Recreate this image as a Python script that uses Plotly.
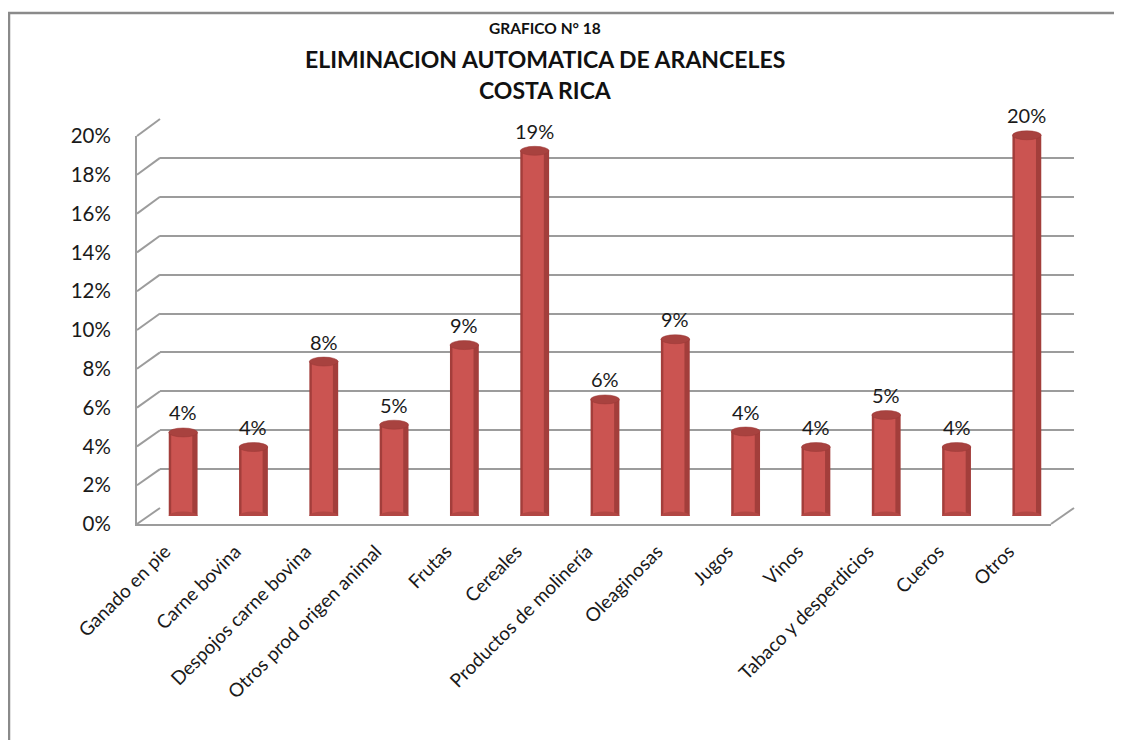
import plotly.graph_objects as go

# ---------------- data ----------------
categories = [
    "Ganado en pie", "Carne bovina", "Despojos carne bovina", "Otros prod origen animal",
    "Frutas", "Cereales", "Productos de molinería", "Oleaginosas", "Jugos", "Vinos",
    "Tabaco y desperdicios", "Cueros", "Otros",
]
values = [0.043, 0.0355, 0.0795, 0.047, 0.088, 0.188, 0.060, 0.091, 0.0435, 0.0355, 0.052, 0.0355, 0.196]
y_ticks = [0.00, 0.02, 0.04, 0.06, 0.08, 0.10, 0.12, 0.14, 0.16, 0.18, 0.20]
title_lines = ["GRAFICO N° 18", "ELIMINACION AUTOMATICA DE ARANCELES", "COSTA RICA"]

# ---------------- layout geometry (page pixels) ----------------
PAGE_OFF = 8                    # default body margin of the html page
W, H = 1122 - PAGE_OFF, 740 - PAGE_OFF
FONT = "Lato, 'Open Sans', sans-serif"
GRID = "#9c9c9c"

def px(x):
    return (x - PAGE_OFF) / W

def py(y):
    return 1 - (y - PAGE_OFF) / H

front = dict(l=137, r=1051, y0=524, y1=136)   # front plane (axis labels)
back = dict(l=160, r=1074, y0=508, y1=119)    # back wall (gridlines)
mid = dict(l=148, r=1062, y0=516, y1=127.5)   # bar plane

YMAX = 0.2
rng_x = [-0.5, len(categories) - 0.5]

fig = go.Figure()

# back wall subplot (grid only)
fig.add_trace(go.Scatter(x=categories, y=values, mode="none", showlegend=False,
                         hoverinfo="skip", xaxis="x", yaxis="y"))

# bars: cylinder body (edge colour) + lighter core
fig.add_trace(go.Bar(x=categories, y=values, width=0.41, marker=dict(color="#A33E3B", line=dict(width=0)),
                     showlegend=False, xaxis="x2", yaxis="y2", hoverinfo="x+y"))
fig.add_trace(go.Bar(x=categories, y=values, width=0.30, offset=-0.17,
                     marker=dict(color="#CB5451", line=dict(width=0)),
                     showlegend=False, xaxis="x2", yaxis="y2", hoverinfo="skip"))

# front axis subplot (labels)
fig.add_trace(go.Scatter(x=categories, y=values, mode="none", showlegend=False,
                         hoverinfo="skip", xaxis="x3", yaxis="y3"))

shapes = []
# diagonal connectors from front axis to back wall
for t in y_ticks:
    yf = front["y0"] + (front["y1"] - front["y0"]) * t / YMAX
    yb = back["y0"] + (back["y1"] - back["y0"]) * t / YMAX
    shapes.append(dict(type="line", xref="paper", yref="paper",
                       x0=px(front["l"]), y0=py(yf), x1=px(back["l"]), y1=py(yb),
                       line=dict(color=GRID, width=2)))
# right floor diagonal
shapes.append(dict(type="line", xref="paper", yref="paper",
                   x0=px(front["r"]), y0=py(front["y0"]), x1=px(back["r"]), y1=py(back["y0"]),
                   line=dict(color=GRID, width=2)))

# cylinder caps (top) and rounded bases
for i, v in enumerate(values):
    shapes.append(dict(type="circle", xref="x2", yref="y2", xsizemode="pixel", ysizemode="pixel",
                       xanchor=i, yanchor=0, x0=-14.4, x1=14.4, y0=-4.5, y1=4.5,
                       fillcolor="#B24744", line=dict(width=0), layer="above"))
    shapes.append(dict(type="circle", xref="x2", yref="y2", xsizemode="pixel", ysizemode="pixel",
                       xanchor=i, yanchor=v, x0=-14.4, x1=14.4, y0=-4.5, y1=4.5,
                       fillcolor="#A8423F", line=dict(color="#9A3936", width=0.5), layer="above"))

# outer chart border
shapes.append(dict(type="rect", xref="paper", yref="paper",
                   x0=px(9), y0=py(13), x1=px(1122 + 20), y1=py(740 + 20),
                   line=dict(color="#8a8a8a", width=2.5), fillcolor="rgba(0,0,0,0)", layer="below"))

annotations = []
for i, v in enumerate(values):
    annotations.append(dict(xref="x2", yref="y2", x=i, y=v, text=f"{round(v * 100)}%",
                            showarrow=False, yanchor="bottom", yshift=6,
                            font=dict(family=FONT, size=20, color="#1a1a1a")))

for txt, yy, sz in [(title_lines[0], 28, 15.5), (title_lines[1], 59, 23), (title_lines[2], 90, 23)]:
    annotations.append(dict(xref="paper", yref="paper", x=px(545), y=py(yy), text=f"<b>{txt}</b>",
                            xanchor="center", yanchor="middle", showarrow=False,
                            font=dict(family=FONT, size=sz, color="#111")))

common = dict(automargin=False, zeroline=False)
fig.update_layout(
    width=W, height=H, autosize=False,
    margin=dict(l=0, r=0, t=0, b=0, pad=0, autoexpand=False),
    paper_bgcolor="white", plot_bgcolor="rgba(0,0,0,0)",
    barmode="overlay", showlegend=False,
    font=dict(family=FONT, size=16, color="#1a1a1a"),
    shapes=shapes, annotations=annotations,
    # back wall
    xaxis=dict(domain=[px(back["l"]), px(back["r"])], range=rng_x, anchor="y",
               showticklabels=False, showgrid=False, showline=False,
               categoryorder="array", categoryarray=categories, **common),
    yaxis=dict(domain=[py(back["y0"]), py(back["y1"])], range=[0, YMAX], anchor="x",
               tickvals=y_ticks, showticklabels=False, showgrid=True, gridcolor=GRID, gridwidth=2,
               showline=False, **common),
    # bars
    xaxis2=dict(domain=[px(mid["l"]), px(mid["r"])], range=rng_x, anchor="y2",
                showticklabels=False, showgrid=False, showline=False,
                categoryorder="array", categoryarray=categories, **common),
    yaxis2=dict(domain=[py(mid["y0"]), py(mid["y1"])], range=[0, YMAX], anchor="x2",
                showticklabels=False, showgrid=False, showline=False, **common),
    # front axes with labels
    xaxis3=dict(domain=[px(front["l"]), px(front["r"])], range=rng_x, anchor="y3",
                showgrid=False, showline=True, linecolor=GRID, linewidth=2,
                tickangle=-45, ticks="outside", ticklen=7, tickcolor="rgba(0,0,0,0)",
                tickfont=dict(family=FONT, size=19, color="#1a1a1a"),
                ticklabelshift=-7,
                categoryorder="array", categoryarray=categories, **common),
    yaxis3=dict(domain=[py(front["y0"]), py(front["y1"])], range=[0, YMAX], anchor="x3",
                tickvals=y_ticks, tickformat=".0%", showgrid=False,
                showline=True, linecolor=GRID, linewidth=2, ticks="",
                tickfont=dict(family=FONT, size=20.5, color="#1a1a1a"), ticklabelstandoff=20, **common),
)

fig.write_html("out.html")
